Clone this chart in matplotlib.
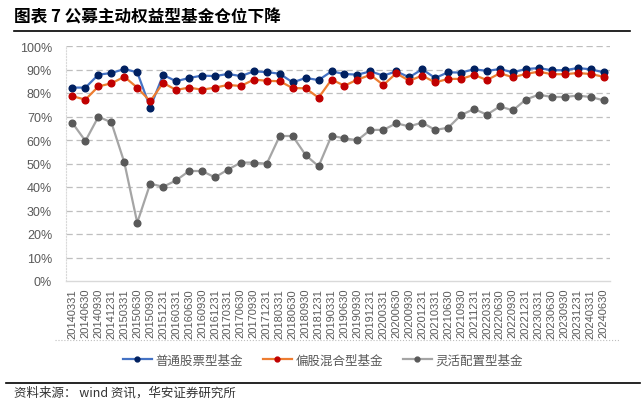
import matplotlib
matplotlib.use("Agg")
import matplotlib.pyplot as plt
from matplotlib.lines import Line2D

plt.rcParams['font.family'] = ['Liberation Sans', 'Noto Sans CJK SC', 'DejaVu Sans']

dates = ["20140331", "20140630", "20140930", "20141231",
         "20150331", "20150630", "20150930", "20151231",
         "20160331", "20160630", "20160930", "20161231",
         "20170331", "20170630", "20170930", "20171231",
         "20180331", "20180630", "20180930", "20181231",
         "20190331", "20190630", "20190930", "20191231",
         "20200331", "20200630", "20200930", "20201231",
         "20210331", "20210630", "20210930", "20211231",
         "20220331", "20220630", "20220930", "20221231",
         "20230331", "20230630", "20230930", "20231231",
         "20240331", "20240630"]

stock_fund = [82.3, 82.3, 87.8, 88.5, 90.2, 88.8, 73.8, 87.7, 85.0, 86.4,
              87.4, 87.2, 88.1, 87.2, 89.2, 88.9, 88.2, 84.5, 86.4, 85.5,
              89.2, 88.1, 87.8, 89.2, 87.4, 89.2, 86.7, 90.1, 86.4, 88.8,
              88.7, 90.1, 89.4, 90.2, 88.8, 90.2, 90.6, 89.7, 89.7, 90.6,
              90.1, 88.8]

partial_stock = [78.6, 77.2, 82.8, 84.1, 86.9, 82.3, 76.5, 84.3, 81.3, 82.3,
                 81.4, 82.3, 83.4, 83.0, 85.7, 85.2, 85.0, 82.1, 82.0, 78.0,
                 85.7, 83.1, 85.7, 87.7, 83.4, 88.4, 85.2, 87.4, 84.5, 86.0,
                 86.0, 87.7, 85.5, 88.4, 86.7, 88.1, 89.1, 88.0, 88.0, 88.5,
                 88.1, 86.9]

flexible = [67.2, 59.6, 69.9, 67.5, 50.5, 24.8, 41.4, 40.1, 42.8, 46.8,
            46.8, 44.1, 47.4, 50.4, 50.4, 49.9, 61.7, 61.7, 53.6, 48.8,
            61.8, 60.7, 59.9, 64.3, 64.3, 67.1, 65.8, 67.4, 64.3, 65.2,
            70.6, 73.2, 70.8, 74.3, 72.6, 77.2, 79.3, 78.3, 78.3, 78.9,
            78.3, 76.9]

series_names = ["普通股票型基金", "偏股混合型基金", "灵活配置型基金"]
yticks = list(range(0, 101, 10))

fig = plt.figure(figsize=(6.44, 4.02), dpi=100)
ax = fig.add_axes([66/644, 1-282/402, (610-66)/644, (282-47)/402])

x = list(range(len(dates)))
styles = [
    (stock_fund, "#4472C4", "#002060"),
    (partial_stock, "#ED7D31", "#C00000"),
    (flexible, "#A5A5A5", "#595959"),
]
handles = []
for (vals, lc, mc), name in zip(styles, series_names):
    ax.plot(x, vals, color=lc, lw=1.6, marker='o', ms=4.8,
            mfc=mc, mec=mc, zorder=3)
    handles.append(Line2D([0], [0], color=lc, lw=1.6, marker='o', ms=3.5,
                          mfc=mc, mec=mc))

ax.set_xlim(-0.5, len(dates) - 0.5)
ax.set_ylim(0, 100)
ax.set_yticks(yticks)
ax.set_yticklabels([f"{v}%" for v in yticks], fontsize=9, color="#595959")
ax.set_xticks(x)
ax.set_xticklabels(dates, rotation=90, fontsize=8, color="#595959")
ax.tick_params(axis='both', length=0, pad=5)
ax.tick_params(axis='y', pad=10)

for v in yticks[1:]:
    ax.axhline(v, color="#BFBFBF", lw=0.9, ls=(0, (5, 3)), zorder=1)
for s in ['top', 'right']:
    ax.spines[s].set_visible(False)
ax.spines['bottom'].set_color("#D9D9D9")
ax.spines['bottom'].set_linewidth(1.0)
ax.spines['left'].set_color("#D9D9D9")
ax.spines['left'].set_linestyle(':')
ax.spines['left'].set_linewidth(0.8)

fig.legend(handles, series_names, loc='center', bbox_to_anchor=(323/644, 1-361/402),
           ncol=3, frameon=False, labelcolor="#595959",
           handlelength=2.3, handletextpad=0.3, columnspacing=1.6,
           prop={'family': ['Noto Sans CJK SC'], 'size': 9})

fig.text(14/644, 1-18/402, "图表 7 公募主动权益型基金仓位下降", fontsize=12,
         fontweight='bold', family=['Noto Sans CJK SC'], va='center', ha='left')
fig.add_artist(Line2D([14/644, 630/644], [1-32/402, 1-32/402], color='black', lw=1.2))
fig.add_artist(Line2D([55/644, 620/644], [1-341/402, 1-341/402], color='#BFBFBF',
                      lw=0.8, ls=':'))
fig.add_artist(Line2D([6/644, 640/644], [1-384/402, 1-384/402], color='black', lw=1.2))
fig.text(14/644, 1-393/402, "资料来源： wind 资讯，华安证券研究所", fontsize=9,
         family=['Noto Sans CJK SC', 'DejaVu Sans'], va='center', ha='left', color="#333333")

fig.savefig("out.png", dpi=100)
